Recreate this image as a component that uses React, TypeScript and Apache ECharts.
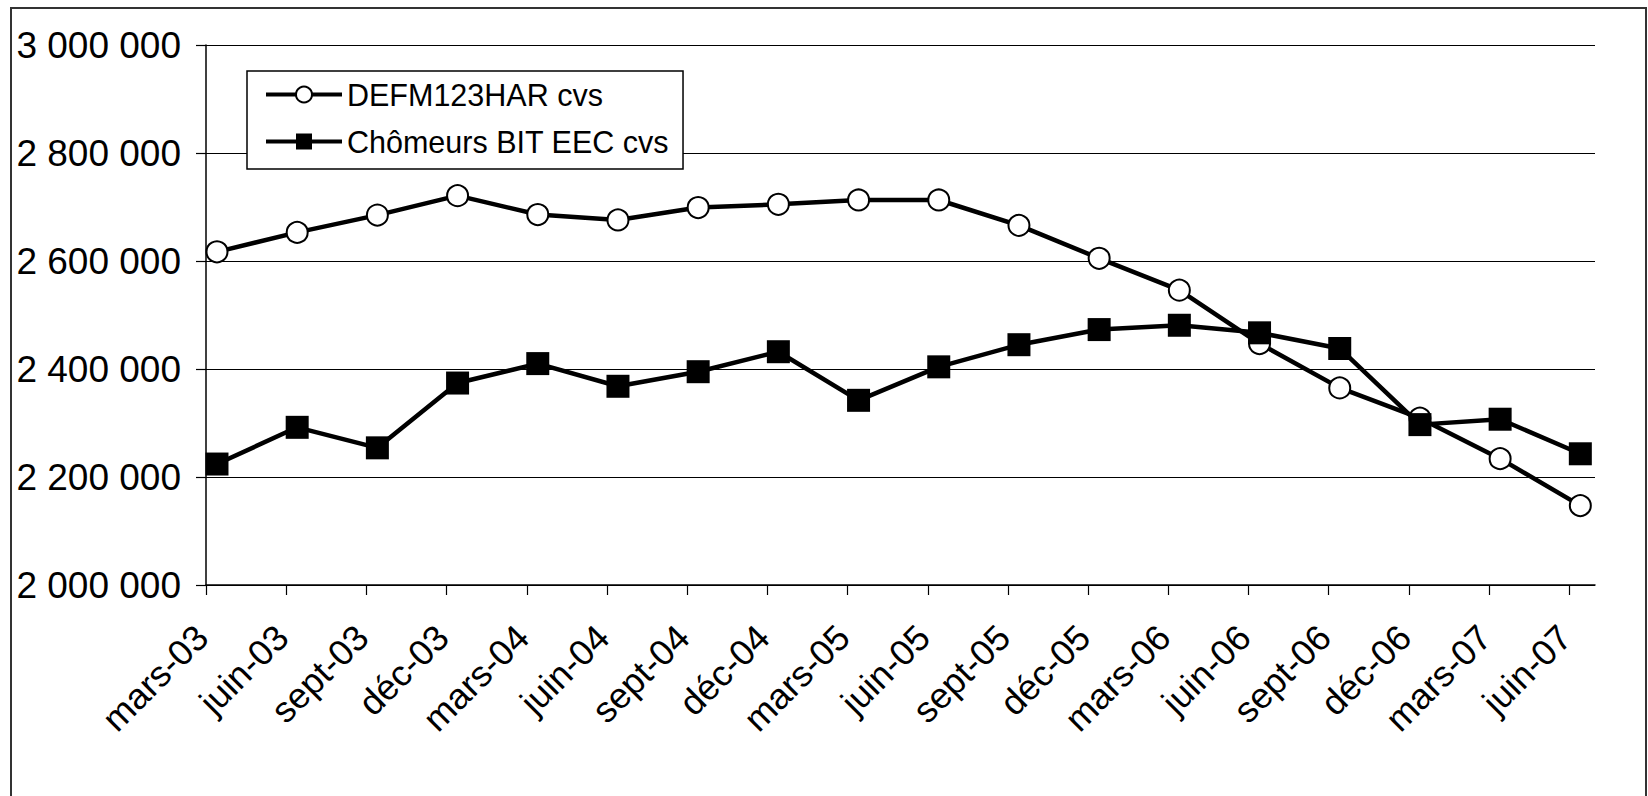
import React, { useEffect, useRef } from "react";
import * as echarts from "echarts";

const CATEGORIES = [
  "mars-03", "juin-03", "sept-03", "déc-03",
  "mars-04", "juin-04", "sept-04", "déc-04",
  "mars-05", "juin-05", "sept-05", "déc-05",
  "mars-06", "juin-06", "sept-06", "déc-06",
  "mars-07", "juin-07",
];

const DEFM = [
  2617000, 2653000, 2685000, 2721000,
  2686000, 2676000, 2699000, 2705000,
  2713000, 2713000, 2666000, 2605000,
  2546000, 2447000, 2365000, 2309000,
  2234000, 2147000,
];

const BIT = [
  2224000, 2292000, 2254000, 2374000,
  2410000, 2368000, 2395000, 2432000,
  2342000, 2404000, 2445000, 2473000,
  2481000, 2467000, 2438000, 2297000,
  2307000, 2243000,
];

const Y_TICKS = [2000000, 2200000, 2400000, 2600000, 2800000, 3000000];

// points are dated a little after the quarter's first day (fraction of a quarter)
const POINT_OFFSET = 0.137;

const FONT = "'Liberation Sans', Arial, sans-serif";

function fmtSpace(v: number): string {
  return String(Math.round(v)).replace(/\B(?=(\d{3})+(?!\d))/g, " ");
}

export default function App() {
  const ref = useRef<HTMLDivElement>(null);
  useEffect(() => {
    if (!ref.current) return;
    const chart = echarts.init(ref.current, undefined, { renderer: "svg" });
    const tickIdx = CATEGORIES.map((_, i) => i);
    const option: any = {
      animation: false,
      backgroundColor: "#ffffff",
      textStyle: { fontFamily: FONT, color: "#000" },
      grid: { left: 206, right: 53, top: 45, bottom: 211, containLabel: false },
      legend: {
        orient: "vertical",
        left: 247,
        top: 71,
        backgroundColor: "#fff",
        borderColor: "#000",
        borderWidth: 1.5,
        padding: [8, 14, 12, 17],
        itemWidth: 76,
        itemHeight: 20,
        itemGap: 16,
        lineStyle: { width: 4, color: "#000" },
        textStyle: { fontFamily: FONT, fontSize: 30.5, color: "#000" },
        data: ["DEFM123HAR cvs", "Chômeurs BIT EEC cvs"],
      },
      xAxis: {
        type: "value",
        min: 0,
        max: 17.32,
        interval: 1,
        splitLine: { show: false },
        axisLine: { show: true, onZero: false, lineStyle: { color: "#000", width: 1.5 } },
        axisTick: { show: true, length: 10, customValues: tickIdx, lineStyle: { color: "#000", width: 1.2 } },
        axisLabel: {
          customValues: tickIdx,
          rotate: 45,
          margin: 42,
          padding: [0, 6, 0, 0],
          fontSize: 36,
          fontFamily: FONT,
          color: "#000",
          formatter: (v: number) => CATEGORIES[Math.round(v)] ?? "",
        },
      },
      yAxis: {
        type: "value",
        min: 2000000,
        max: 3000000,
        interval: 200000,
        axisLine: { show: true, lineStyle: { color: "#000", width: 1.5 } },
        axisTick: { show: true, length: 10, lineStyle: { color: "#000", width: 1.2 } },
        splitLine: { show: true, lineStyle: { color: "#000", width: 1 } },
        axisLabel: {
          margin: 25,
          fontSize: 37,
          fontFamily: FONT,
          color: "#000",
          formatter: (v: number) => (Y_TICKS.includes(v) ? fmtSpace(v) : ""),
        },
      },
      series: [
        {
          name: "DEFM123HAR cvs",
          type: "line",
          data: DEFM.map((v, i) => [i + POINT_OFFSET, v]),
          symbol: "circle",
          symbolSize: 21,
          lineStyle: { color: "#000", width: 4.5 },
          itemStyle: { color: "#fff", borderColor: "#000", borderWidth: 2 },
          z: 3,
        },
        {
          name: "Chômeurs BIT EEC cvs",
          type: "line",
          data: BIT.map((v, i) => [i + POINT_OFFSET, v]),
          symbol: "rect",
          symbolSize: 23,
          lineStyle: { color: "#000", width: 4.5 },
          itemStyle: { color: "#000", borderColor: "#000", borderWidth: 0 },
          z: 4,
        },
      ],
      graphic: [
        {
          type: "rect",
          shape: { x: 11, y: 8, width: 1635, height: 830 },
          style: { fill: "none", stroke: "#333", lineWidth: 2 },
          silent: true,
          z: -1,
        },
      ],
    };
    chart.setOption(option);
    return () => chart.dispose();
  }, []);
  return (
    <div
      ref={ref}
      style={{ position: "absolute", left: 0, top: 0, width: 1648, height: 796, background: "#fff" }}
    />
  );
}
